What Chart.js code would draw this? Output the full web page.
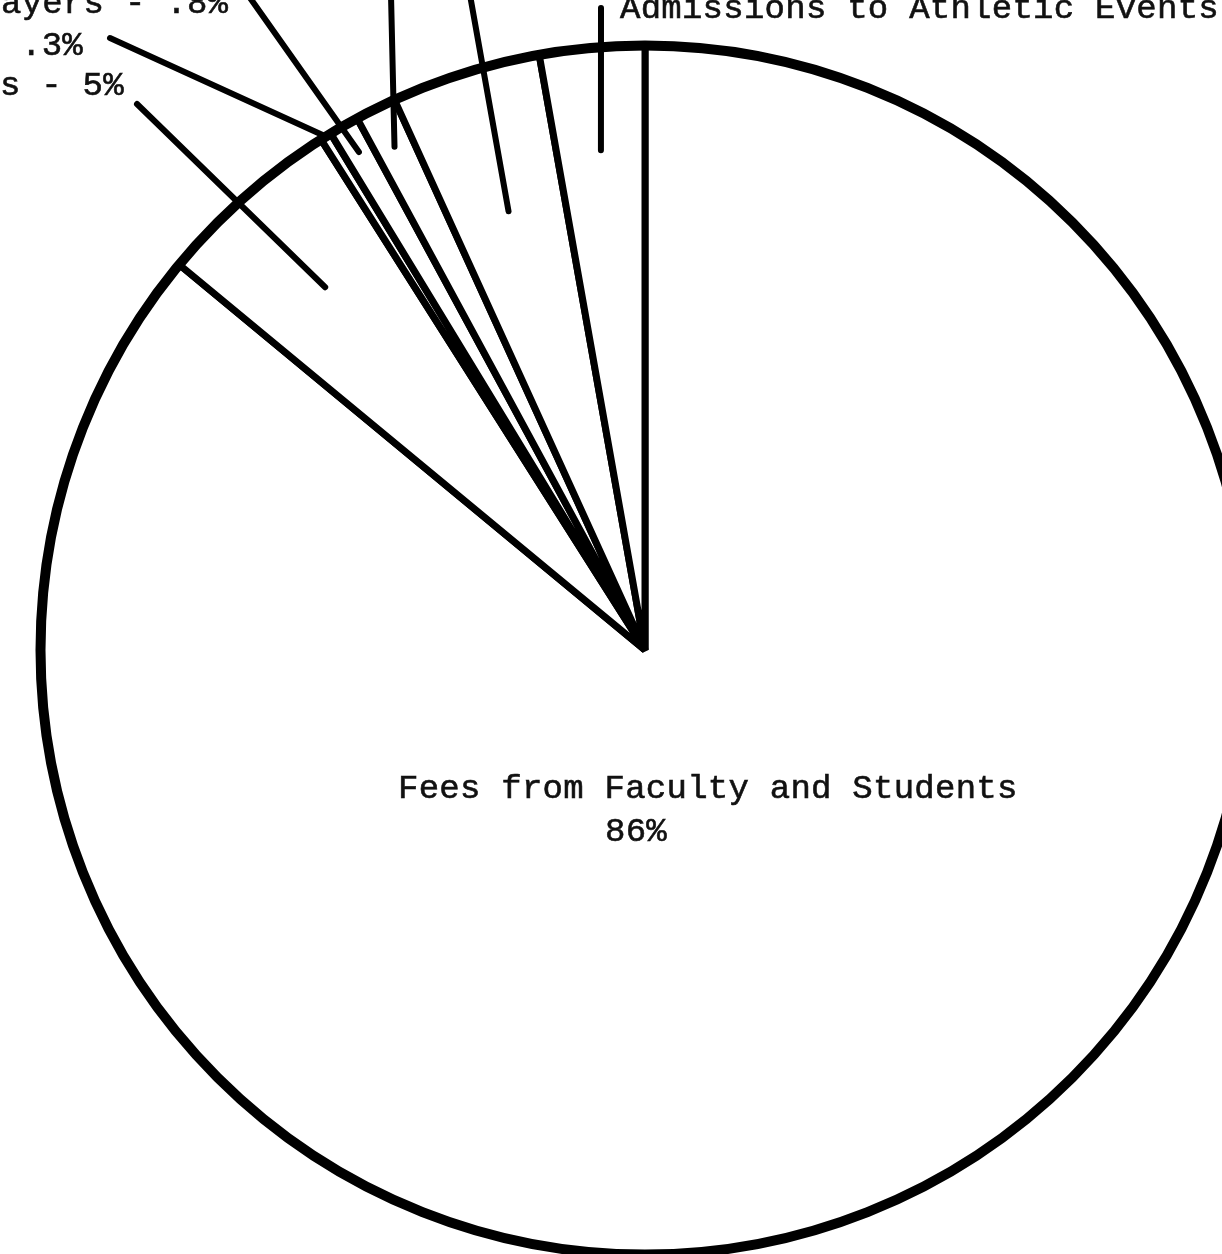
<!DOCTYPE html>
<html>
<head>
<meta charset="utf-8">
<title>Sources of Income</title>
<script src="https://cdn.jsdelivr.net/npm/chart.js@4.4.1/dist/chart.umd.min.js"></script>
<style>
    html, body { margin: 0; padding: 0; background: #fff; overflow: hidden; }
    #wrap { position: absolute; left: 0; top: 0; width: 1290px; height: 1300px; }
</style>
</head>
<body>
<div id="wrap"><canvas id="pieChart"></canvas></div>
<script>
// Ma'lumotlar (rasmdan o'qilgan qiymatlar)
const categories = ['Fees from Faculty and Students', 's', '', 'ayers', '', '', 'Admissions to Athletic Events'];
const shares = [86, 5, 0.3, 0.8, 1.1, 4, 2.8];

// Ko'rinadigan yozuvlar (rasm chetida kesilgan)
const sliceTexts = ['', 's - 5%', '.3%', 'ayers - .8%', '', '', 'Admissions to Athletic Events'];
const centerTexts = ['Fees from Faculty and Students', '86%'];

// Yozuv joylari va ko'rsatkich chiziqlari
const textSpots = [null, [0, 95], [21, 55], [1, 13], null, null, [620, 18]];
const leaderFrom = [null, [137, 104], [110, 38], [248, -5], [391, -5], [470, -5], [601, 8]];
const leaderDepth = [0, 0.8, 1.0, 0.95, 0.93, 0.76, 0.83];

const FONT = '34px "Liberation Mono", "DejaVu Sans Mono", monospace';

// Qo'shimcha chizish: yozuvlar va chiziqlar
const labelPlugin = {
    id: 'labelPlugin',
    afterDraw(chart) {
        const ctx = chart.ctx;
        const arcs = chart.getDatasetMeta(0).data;
        ctx.save();

        // Tashqi aylanani qalinroq qilish
        const first = arcs[0].getProps(['x', 'y', 'outerRadius'], true);
        ctx.strokeStyle = '#000';
        ctx.lineWidth = 10;
        ctx.beginPath();
        ctx.arc(first.x, first.y, first.outerRadius, 0, Math.PI * 2);
        ctx.stroke();

        // Ko'rsatkich chiziqlari
        ctx.lineCap = 'round';
        ctx.lineWidth = 6;
        arcs.forEach((arc, i) => {
            if (!leaderFrom[i]) return;
            const p = arc.getProps(['x', 'y', 'startAngle', 'endAngle', 'outerRadius'], true);
            const mid = (p.startAngle + p.endAngle) / 2;
            const r = p.outerRadius * leaderDepth[i];
            ctx.beginPath();
            ctx.moveTo(leaderFrom[i][0], leaderFrom[i][1]);
            ctx.lineTo(p.x + Math.cos(mid) * r, p.y + Math.sin(mid) * r);
            ctx.stroke();
        });

        // Yozuvlar (mashinka harfi kabi biroz qalinroq)
        ctx.fillStyle = '#111';
        ctx.strokeStyle = '#111';
        ctx.lineWidth = 0.6;
        ctx.lineCap = 'butt';
        ctx.font = FONT;
        if ('letterSpacing' in ctx) ctx.letterSpacing = '0.25px';
        ctx.textAlign = 'left';
        ctx.textBaseline = 'alphabetic';
        const put = (t, x, y) => {
            ctx.fillText(t, x, y);
            ctx.strokeText(t, x, y);
        };
        sliceTexts.forEach((t, i) => {
            if (!t || !textSpots[i]) return;
            put(t, textSpots[i][0], textSpots[i][1]);
        });
        put(centerTexts[0], 398, 798);
        put(centerTexts[1], 605, 841);

        ctx.restore();
    }
};

function createPieChart() {
    const canvas = document.getElementById('pieChart');
    if (!canvas) return;
    const ctx = canvas.getContext('2d');

    window.pieChart = new Chart(ctx, {
        type: 'pie',
        data: {
            labels: categories,
            datasets: [{
                data: shares,
                backgroundColor: '#ffffff',
                borderColor: '#000000',
                borderWidth: 7,
                borderAlign: 'center'
            }]
        },
        options: {
            responsive: true,
            maintainAspectRatio: false,
            animation: false,
            layout: { padding: 37 },
            plugins: {
                legend: { display: false },
                tooltip: { enabled: false },
                title: { display: false }
            }
        },
        plugins: [labelPlugin]
    });
}

document.addEventListener('DOMContentLoaded', createPieChart);
</script>
</body>
</html>
